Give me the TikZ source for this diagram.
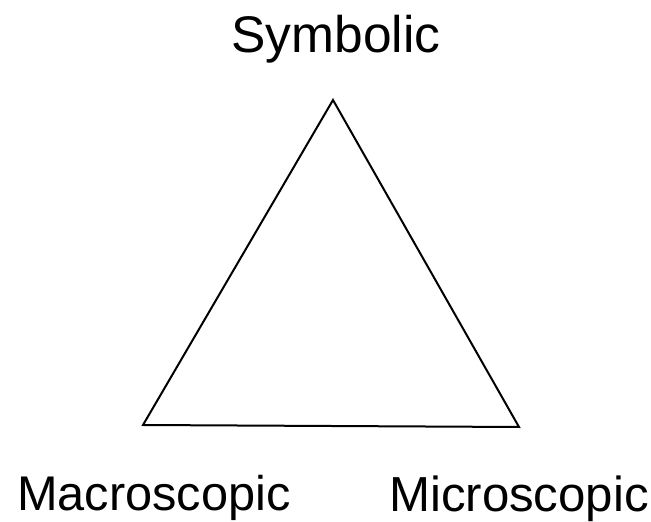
\documentclass[tikz,border=0pt]{standalone}
\usepackage{fontspec}
\setmainfont{Liberation Sans}
\begin{document}
\begin{tikzpicture}[x=1pt,y=1pt,
  lbl/.style={inner sep=0pt,anchor=base}]
\useasboundingbox (0,0) rectangle (651,522);
\coordinate (top) at (333,422);
\coordinate (bl) at (143,97);
\coordinate (br) at (519,95);
\draw[line width=2pt,line join=miter] (top) -- (bl) -- (br) -- cycle;
\node[lbl,font=\fontsize{51.5}{60}\selectfont] (sym) at (336,469) {Symbolic};
\node[lbl,font=\fontsize{48.7}{60}\selectfont] (mac) at (154,11) {Macroscopic};
\node[lbl,font=\fontsize{49.2}{60}\selectfont] (mic) at (519,10) {Microscopic};
\end{tikzpicture}
\end{document}
